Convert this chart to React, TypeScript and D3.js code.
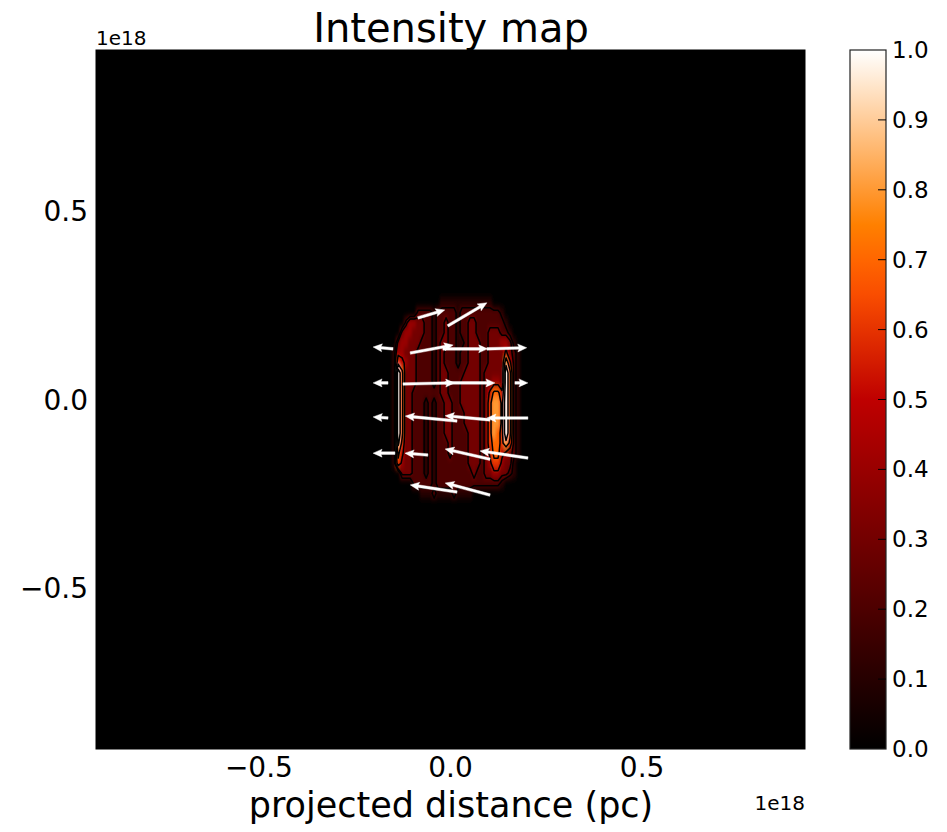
import * as d3 from 'd3';

// axis values are in units of 1e18
const xTicks = [-0.5, 0.0, 0.5];
const yTicks = [-0.5, 0.0, 0.5];
const cbarTicks = [0, 0.1, 0.2, 0.3, 0.4, 0.5, 0.6, 0.7, 0.8, 0.9, 1.0];
const axisExtent = [-0.925, 0.925];

// intensity map, one char per cell: 0-9 = tenths, A = 1.0 (rows top to bottom)
const intensityRows = [
  '0000000000001111111111111000000000',
  '0000002222122222122222222221000000',
  '0002443322122322122332222222100000',
  '0034433322122322122332223332210000',
  '0344333222123322112333223334431000',
  '1443332222123222122333223333532100',
  '1654332222123222122333223333852100',
  '1A73332222123322223333233333A72100',
  '1A73332222123322233333233443A72100',
  '1A73322222223322233333235775A72100',
  '1A73322212122332233333236886A72100',
  '1A73322212122332223333236886A72100',
  '1A73322212122332223333236886A72100',
  '1A73322212122332222333236876A72100',
  '1963322212122232222333236776862100',
  '1753322212122232222333235775432100',
  '1643322212122222222333234664331000',
  '0033322212122222222232233443321000',
  '0000022222122222222222222221000000',
  '0000000111211112111100000000000000',
];
const gridXRange = [-0.147, 0.197]; // centres of first / last column
const gridYRange = [0.256, -0.248]; // centres of first / last row
const contourLevels = [0.15, 0.25, 0.45, 0.65, 0.85];

// polarisation vectors: tail position and components
const arrowX = [-0.085, -0.007, -0.15, -0.105, -0.02, 0.095, -0.163, -0.124, -0.014, 0.168, -0.163, 0.017, 0.103, 0.202, -0.145, -0.059, 0.103, 0.202, 0.017, 0.103];
const arrowY = [0.216, 0.195, 0.134, 0.123, 0.134, 0.134, 0.044, 0.041, 0.044, 0.044, -0.049, -0.057, -0.054, -0.049, -0.142, -0.147, -0.158, -0.155, -0.245, -0.253];
const arrowU = [0.07, 0.102, -0.052, 0.112, 0.117, 0.104, -0.039, 0.135, 0.13, 0.034, -0.039, -0.135, -0.117, -0.107, -0.057, -0.06, -0.117, -0.125, -0.122, -0.117];
const arrowV = [0.021, 0.061, 0.005, 0.021, 0, 0.003, 0, 0.003, 0, 0, 0.003, 0.013, 0.011, 0, 0, 0.005, 0.027, 0.019, 0.019, 0.032];

const gistHeat = (t: number) =>
  d3
    .rgb(
      255 * Math.min(1, 1.5 * t),
      255 * Math.max(0, Math.min(1, 2 * t - 1)),
      255 * Math.max(0, Math.min(1, 4 * t - 3))
    )
    .formatHex();

const FONT = '"DejaVu Sans", sans-serif';

export default function App() {
  const W = 947;
  const H = 832;
  const plot = { left: 96, right: 805, top: 50, bottom: 749 };
  const cbar = { left: 850, right: 886, top: 50, bottom: 749 };

  const x = d3.scaleLinear().domain(axisExtent).range([plot.left, plot.right]);
  const y = d3.scaleLinear().domain(axisExtent).range([plot.bottom, plot.top]);
  const cy = d3.scaleLinear().domain([0, 1]).range([cbar.bottom, cbar.top]);

  const nx = intensityRows[0].length;
  const ny = intensityRows.length;
  const values = intensityRows.flatMap((r) => [...r].map((c) => (c === 'A' ? 1 : +c / 10)));
  const dx = (gridXRange[1] - gridXRange[0]) / (nx - 1);
  const dy = (gridYRange[1] - gridYRange[0]) / (ny - 1);

  const cells = values.map((v, k) => {
    const i = k % nx;
    const j = Math.floor(k / nx);
    const cx = gridXRange[0] + i * dx;
    const cyv = gridYRange[0] + j * dy;
    return {
      x0: x(cx - dx / 2),
      x1: x(cx + dx / 2),
      y0: y(cyv - dy / 2),
      y1: y(cyv + dy / 2),
      v,
    };
  });

  const contours = d3.contours().size([nx, ny]).smooth(true).thresholds(contourLevels)(values);
  const proj = d3.geoTransform({
    point(px: number, py: number) {
      // @ts-ignore
      this.stream.point(x(gridXRange[0] + (px - 0.5) * dx), y(gridYRange[0] + (py - 0.5) * dy));
    },
  });
  const contourPath = d3.geoPath(proj);

  const shaft = 2.6;
  const headLen = 9;
  const headAxis = 8;
  const headW = 8;
  const arrows = arrowX.map((ax, k) => {
    const x0 = x(ax);
    const y0 = y(arrowY[k]);
    const x1 = x(ax + arrowU[k]);
    const y1 = y(arrowY[k] + arrowV[k]);
    const L = Math.hypot(x1 - x0, y1 - y0);
    const ang = (Math.atan2(y1 - y0, x1 - x0) * 180) / Math.PI;
    const pts: [number, number][] = [
      [0, -shaft / 2],
      [L - headAxis, -shaft / 2],
      [L - headLen, -headW / 2],
      [L, 0],
      [L - headLen, headW / 2],
      [L - headAxis, shaft / 2],
      [0, shaft / 2],
    ];
    return { x0, y0, ang, d: 'M' + pts.map((p) => p.join(',')).join('L') + 'Z' };
  });

  const stops = d3.range(0, 1.0001, 0.05);

  return (
    <svg width={W} height={H} style={{ position: 'absolute', left: 0, top: 0, background: '#fff' }}>
      <defs>
        <linearGradient id="cmap" x1="0" y1="1" x2="0" y2="0">
          {stops.map((t) => (
            <stop key={t} offset={t} stopColor={gistHeat(t)} />
          ))}
        </linearGradient>
        <filter id="soft" x="-20%" y="-20%" width="140%" height="140%">
          <feGaussianBlur stdDeviation="1.0 3" />
        </filter>
        <clipPath id="plotClip">
          <rect x={plot.left} y={plot.top} width={plot.right - plot.left} height={plot.bottom - plot.top} />
        </clipPath>
      </defs>

      <text x={451} y={42} textAnchor="middle" fontFamily={FONT} fontSize={40} fill="#000">
        Intensity map
      </text>

      <rect x={plot.left} y={plot.top} width={plot.right - plot.left} height={plot.bottom - plot.top} fill="#000" />

      <g clipPath="url(#plotClip)">
        <g filter="url(#soft)">
          {cells.map((c, k) =>
            c.v > 0 ? (
              <rect
                key={k}
                x={c.x0 - 0.3}
                y={Math.min(c.y0, c.y1) - 0.3}
                width={c.x1 - c.x0 + 0.6}
                height={Math.abs(c.y1 - c.y0) + 0.6}
                fill={gistHeat(c.v)}
              />
            ) : null
          )}
        </g>
        <g fill="none" stroke="#000" strokeWidth={1.5} strokeLinejoin="round">
          {contours.map((c, k) => (
            <path key={k} d={contourPath(c as any) || ''} />
          ))}
        </g>
        <g fill="#fff" stroke="#fff" strokeWidth={0.4}>
          {arrows.map((a, k) => (
            <path key={k} d={a.d} transform={`translate(${a.x0},${a.y0}) rotate(${a.ang})`} />
          ))}
        </g>
      </g>

      <rect
        x={plot.left}
        y={plot.top}
        width={plot.right - plot.left}
        height={plot.bottom - plot.top}
        fill="none"
        stroke="#000"
        strokeWidth={1}
      />

      {xTicks.map((t) => (
        <text key={t} x={x(t)} y={777} textAnchor="middle" fontFamily={FONT} fontSize={28} fill="#000">
          {t < 0 ? '\u2212' + Math.abs(t).toFixed(1) : t.toFixed(1)}
        </text>
      ))}
      {yTicks.map((t) => (
        <text key={t} x={88} y={y(t) + 10} textAnchor="end" fontFamily={FONT} fontSize={28} fill="#000">
          {t < 0 ? '\u2212' + Math.abs(t).toFixed(1) : t.toFixed(1)}
        </text>
      ))}
      <text x={96} y={45} fontFamily={FONT} fontSize={20} fill="#000">
        1e18
      </text>
      <text x={805} y={810} textAnchor="end" fontFamily={FONT} fontSize={20} fill="#000">
        1e18
      </text>
      <text x={451} y={817} textAnchor="middle" fontFamily={FONT} fontSize={35} fill="#000">
        projected distance (pc)
      </text>

      <rect
        x={cbar.left}
        y={cbar.top}
        width={cbar.right - cbar.left}
        height={cbar.bottom - cbar.top}
        fill="url(#cmap)"
        stroke="#222"
        strokeWidth={1.2}
      />
      {cbarTicks.map((t) => (
        <g key={t}>
          {t > 0 && t < 1 ? (
            <line x1={cbar.right} x2={cbar.right - 8} y1={cy(t)} y2={cy(t)} stroke="#000" strokeWidth={1} />
          ) : null}
          <text x={cbar.right + 6} y={cy(t) + 8} fontFamily={FONT} fontSize={23} fill="#000">
            {t.toFixed(1)}
          </text>
        </g>
      ))}
    </svg>
  );
}
